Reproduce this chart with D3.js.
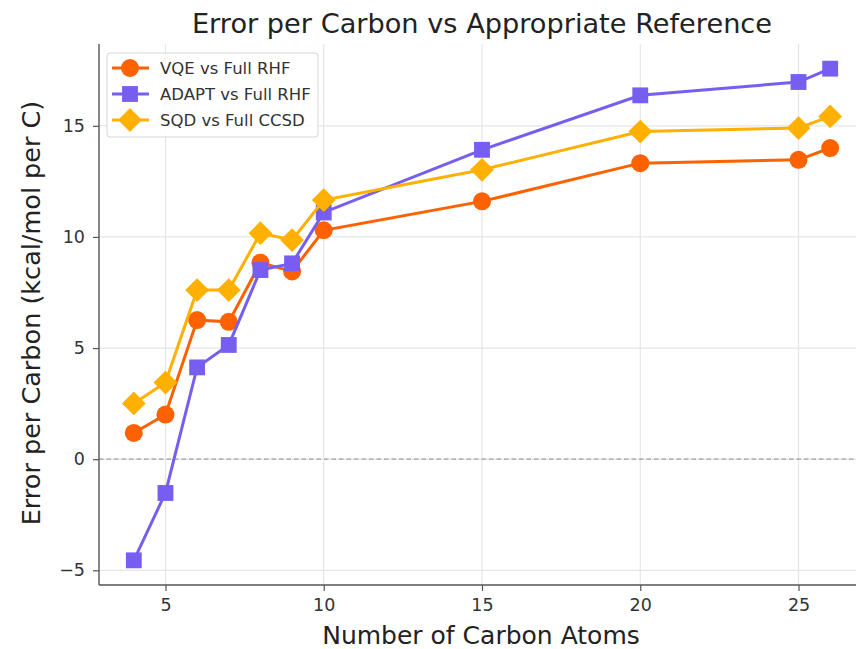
<!DOCTYPE html>
<html>
<head>
<meta charset="utf-8">
<script src="https://cdn.jsdelivr.net/npm/d3@7"></script>
<style>
  body { margin: 0; background: #fff; }
  svg { display: block; font-family: "DejaVu Sans", sans-serif; }
</style>
</head>
<body>
<svg id="chart" width="856" height="649"></svg>
<script>
var carbons = [4, 5, 6, 7, 8, 9, 10, 15, 20, 25, 26];
var vqeErr = [1.18, 2.01, 6.26, 6.18, 8.84, 8.45, 10.3, 11.6, 13.32, 13.47, 14.0];
var adaptErr = [-4.55, -1.52, 4.13, 5.14, 8.51, 8.81, 11.1, 13.92, 16.37, 16.97, 17.57];
var sqdErr = [2.51, 3.45, 7.61, 7.61, 10.17, 9.86, 11.66, 13.02, 14.74, 14.9, 15.42];
var xTicks = [5, 10, 15, 20, 25];
var yTicks = [-5, 0, 5, 10, 15];

var series = [
  { name: "VQE vs Full RHF", values: vqeErr, color: "#FE6100", marker: "circle" },
  { name: "ADAPT vs Full RHF", values: adaptErr, color: "#785EF0", marker: "square" },
  { name: "SQD vs Full CCSD", values: sqdErr, color: "#FFB000", marker: "diamond" }
];

var svg = d3.select("#chart");
var plotL = 99, plotR = 865, plotT = 44, plotB = 585;

var x = d3.scaleLinear().domain([2.9, 27.1]).range([plotL, plotR]);
var y = d3.scaleLinear().domain([-5.66, 18.68]).range([plotB, plotT]);

// grid
svg.append("g").selectAll("line").data(xTicks).enter().append("line")
  .attr("x1", function(d) { return x(d); }).attr("x2", function(d) { return x(d); })
  .attr("y1", plotT).attr("y2", plotB)
  .style("stroke", "#e6e6e6").style("stroke-width", 1.2);
svg.append("g").selectAll("line").data(yTicks).enter().append("line")
  .attr("x1", plotL).attr("x2", plotR)
  .attr("y1", function(d) { return y(d); }).attr("y2", function(d) { return y(d); })
  .style("stroke", "#e6e6e6").style("stroke-width", 1.2);

// zero line
svg.append("line")
  .attr("x1", plotL).attr("x2", plotR)
  .attr("y1", y(0)).attr("y2", y(0))
  .style("stroke", "#a0a0a0").style("stroke-width", 1.3)
  .style("stroke-dasharray", "4.5,3");

// axes
var xAxis = svg.append("g").attr("transform", "translate(0," + plotB + ")")
  .call(d3.axisBottom(x).tickValues(xTicks).tickSize(6).tickPadding(8).tickFormat(d3.format("d")));
var yAxis = svg.append("g").attr("transform", "translate(" + plotL + ",0)")
  .call(d3.axisLeft(y).tickValues(yTicks).tickSize(6).tickPadding(8)
    .tickFormat(function(d) { return d < 0 ? "\u2212" + Math.abs(d) : d; }));
[xAxis, yAxis].forEach(function(a) {
  a.select(".domain").style("stroke", "#555").style("stroke-width", 1.4);
  a.selectAll(".tick line").style("stroke", "#555").style("stroke-width", 1.2);
  a.selectAll(".tick text").style("fill", "#333").style("font-size", "17.5px")
    .style("font-family", "DejaVu Sans, sans-serif");
});
xAxis.select(".domain").attr("d", "M" + plotL + ",0H" + plotR);
yAxis.select(".domain").attr("d", "M0," + plotT + "V" + plotB);

function drawMarker(sel, s, size) {
  if (s.marker === "circle") {
    sel.append("circle").attr("r", size / 2);
  } else if (s.marker === "square") {
    sel.append("rect").attr("x", -size * 0.44).attr("y", -size * 0.44)
      .attr("width", size * 0.88).attr("height", size * 0.88);
  } else {
    var h = size * 0.66;
    sel.append("path").attr("d", "M0," + (-h) + "L" + h + ",0L0," + h + "L" + (-h) + ",0Z");
  }
  sel.selectAll("*").style("fill", s.color);
}

var line = d3.line()
  .x(function(d) { return x(d[0]); })
  .y(function(d) { return y(d[1]); });

series.forEach(function(s) {
  var pts = carbons.map(function(c, i) { return [c, s.values[i]]; });
  svg.append("path").datum(pts).attr("d", line)
    .style("fill", "none").style("stroke", s.color).style("stroke-width", 3);
  svg.append("g").selectAll("g").data(pts).enter().append("g")
    .attr("transform", function(d) { return "translate(" + x(d[0]) + "," + y(d[1]) + ")"; })
    .each(function() { drawMarker(d3.select(this), s, 18); });
});

// legend
var lg = svg.append("g").attr("transform", "translate(107,53)");
lg.append("rect").attr("width", 211).attr("height", 84).attr("rx", 3)
  .style("fill", "#fff").style("fill-opacity", 0.85).style("stroke", "#d6d6d6");
series.forEach(function(s, i) {
  var row = lg.append("g").attr("transform", "translate(0," + (15 + i * 26) + ")");
  row.append("line").attr("x1", 5).attr("x2", 42)
    .style("stroke", s.color).style("stroke-width", 3);
  drawMarker(row.append("g").attr("transform", "translate(23,0)"), s, 18);
  row.append("text").attr("x", 53).attr("y", 0).attr("dy", "0.35em")
    .style("font-size", "16.5px").style("fill", "#333").text(s.name);
});

// titles
svg.append("text").attr("x", 482).attr("y", 33).attr("text-anchor", "middle")
  .style("font-size", "27.2px").style("fill", "#222")
  .text("Error per Carbon vs Appropriate Reference");
svg.append("text").attr("x", 481).attr("y", 644).attr("text-anchor", "middle")
  .style("font-size", "25px").style("fill", "#222").text("Number of Carbon Atoms");
svg.append("text").attr("transform", "translate(40,313) rotate(-90)")
  .attr("text-anchor", "middle")
  .style("font-size", "25.5px").style("fill", "#222").text("Error per Carbon (kcal/mol per C)");
</script>
</body>
</html>
